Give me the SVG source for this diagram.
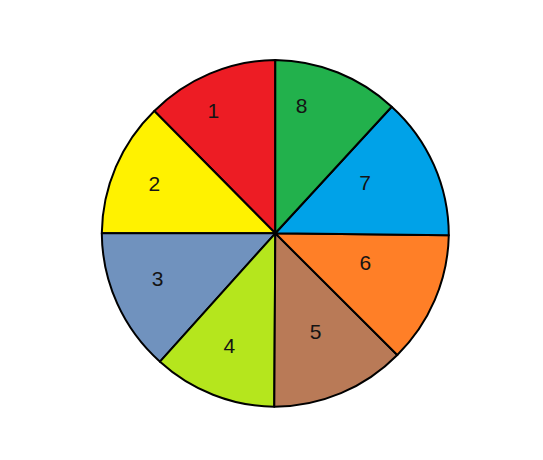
<svg xmlns="http://www.w3.org/2000/svg" width="543" height="460" viewBox="0 0 543 460">
<style>
.s{stroke:#000;stroke-width:2;stroke-linejoin:round}
.t{font-family:"Liberation Sans",Arial,sans-serif;font-size:21px;fill:#141414;text-anchor:middle}
</style>
<rect width="543" height="460" fill="#fff"/>
<g id="slice1"><path class="s" fill="#ED1C24" d="M275.3,233.3 L275.3,60 A173.5,173.5 0 0 0 154.3,111 Z"/><text class="t" x="213.3" y="117.5">1</text></g>
<g id="slice2"><path class="s" fill="#FFF200" d="M275.3,233.3 L154.3,111 A173.5,173.5 0 0 0 101.8,233.3 Z"/><text class="t" x="154.3" y="190.8">2</text></g>
<g id="slice3"><path class="s" fill="#7092BE" d="M275.3,233.3 L101.8,233.3 A173.5,173.5 0 0 0 160,361.7 Z"/><text class="t" x="157.7" y="285.8">3</text></g>
<g id="slice4"><path class="s" fill="#B5E61D" d="M275.3,233.3 L160,361.7 A173.5,173.5 0 0 0 274.3,406.8 Z"/><text class="t" x="229.3" y="352.5">4</text></g>
<g id="slice5"><path class="s" fill="#B97A57" d="M275.3,233.3 L274.3,406.8 A173.5,173.5 0 0 0 397.3,355 Z"/><text class="t" x="315.7" y="338.5">5</text></g>
<g id="slice6"><path class="s" fill="#FF7F27" d="M275.3,233.3 L397.3,355 A173.5,173.5 0 0 0 448.8,235.3 Z"/><text class="t" x="365.3" y="269.8">6</text></g>
<g id="slice7"><path class="s" fill="#00A2E8" d="M275.3,233.3 L448.8,235.3 A173.5,173.5 0 0 0 391.7,106.7 Z"/><text class="t" x="365" y="189.8">7</text></g>
<g id="slice8"><path class="s" fill="#22B14C" d="M275.3,233.3 L391.7,106.7 A173.5,173.5 0 0 0 275.3,60 Z"/><text class="t" x="301.7" y="112.5">8</text></g>
<g id="connectors"></g>
</svg>
